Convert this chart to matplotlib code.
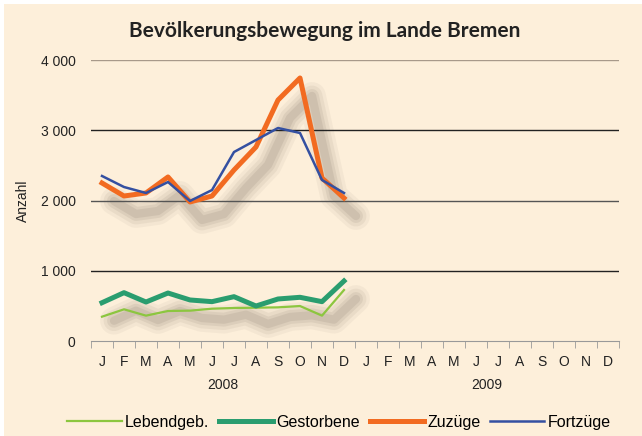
import matplotlib.pyplot as plt
from matplotlib.transforms import offset_copy, blended_transform_factory
from matplotlib.patches import Rectangle

months = ["J", "F", "M", "A", "M", "J", "J", "A", "S", "O", "N", "D"] * 2
years = ["2008", "2009"]

lebendgeb = [346, 451, 361, 427, 432, 460, 470, 474, 479, 498, 361, 726]
gestorbene = [545, 688, 555, 683, 584, 560, 631, 498, 598, 622, 560, 854]
zuzuege = [2249, 2064, 2107, 2335, 1979, 2064, 2434, 2762, 3430, 3744, 2320, 2035]
fortzuege = [2349, 2192, 2107, 2263, 1993, 2149, 2690, 2861, 3032, 2961, 2292, 2107]

bg = "#fdefda"
plt.rcParams["font.family"] = ["Liberation Sans", "DejaVu Sans"]

fig = plt.figure(figsize=(6.42, 4.36), dpi=100, facecolor="white")
fig.patches.append(Rectangle((4 / 642, 0), 1, 1 - 4 / 436, transform=fig.transFigure,
                             facecolor=bg, edgecolor="none", zorder=-10))
ax = fig.add_axes([91 / 642, 1 - 341 / 436, (619 - 91) / 642, (341 - 60) / 436])
ax.set_facecolor(bg)

x = list(range(12))

# blurred drop shadow under the thick lines
shadow = offset_copy(ax.transData, fig=fig, x=12, y=-18, units="dots")
for vals in (zuzuege, gestorbene):
    for lw, a in [(20, 0.06), (15, 0.08), (10, 0.1), (6, 0.12)]:
        ax.plot(x, vals, color="#6e6252", lw=lw, alpha=a, transform=shadow,
                solid_capstyle="round", solid_joinstyle="round", zorder=1)

for yv, c in [(1000, "#222222"), (2000, "#555555"), (3000, "#222222"), (4000, "#a8998a")]:
    ax.axhline(yv, color=c, lw=1, zorder=2)

ax.plot(x, lebendgeb, color="#8cc63f", lw=1.6, label="Lebendgeb.", zorder=3)
ax.plot(x, gestorbene, color="#2a9d6f", lw=3.6, label="Gestorbene", zorder=3)
ax.plot(x, zuzuege, color="#f26b21", lw=3.6, label="Zuzüge", zorder=3)
ax.plot(x, fortzuege, color="#3450a1", lw=1.8, label="Fortzüge", zorder=3)

ax.set_xlim(-0.5, 23.5)
ax.set_ylim(0, 4000)
ax.set_yticks([0, 1000, 2000, 3000, 4000])
ax.set_yticklabels(["0", "1 000", "2 000", "3 000", "4 000"])
ax.set_xticks(range(24))
ax.set_xticklabels(months)
ax.set_xticks([i - 0.5 for i in range(25)], minor=True)
ax.tick_params(axis="x", which="major", length=0, pad=10, labelsize=10, colors="#222222")
ax.tick_params(axis="x", which="minor", length=5, color="#999999", direction="out")
ax.tick_params(axis="y", length=0, pad=11, labelsize=10, colors="#222222")
for s in ["top", "right", "left"]:
    ax.spines[s].set_visible(False)
ax.spines["bottom"].set_color("#999999")

tr = blended_transform_factory(ax.transData, ax.transAxes)
for i, yr in enumerate(years):
    ax.text(5.5 + 12 * i, -0.155, yr, transform=tr, ha="center", va="center",
            fontsize=10, color="#222222")

ax.set_ylabel("Anzahl", fontsize=10, color="#222222")
ax.yaxis.set_label_coords(-0.115, 0.5)

fig.text(0.505, 0.93, "Bevölkerungsbewegung im Lande Bremen", ha="center", va="center",
         fontsize=15, fontweight="bold", family="Lato", color="#222222")

fig.legend(loc="center", bbox_to_anchor=(0.528, 0.032), ncol=4, frameon=False,
           fontsize=11.5, handlelength=3.4, handletextpad=0.2, columnspacing=0.6)

fig.savefig("out.png", dpi=100, facecolor=fig.get_facecolor())
